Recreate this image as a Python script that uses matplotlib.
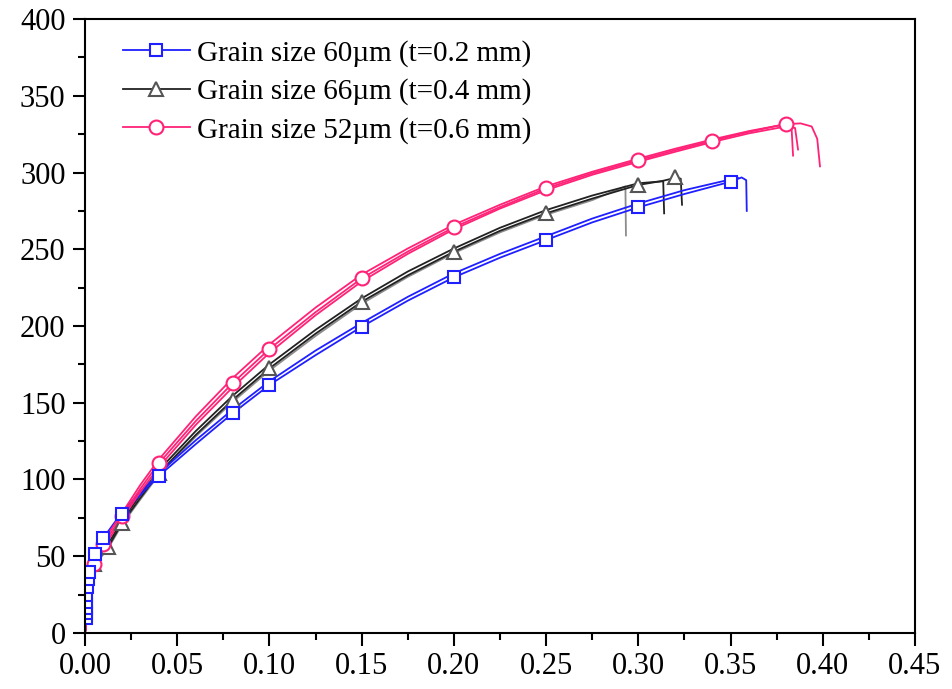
import numpy as np
import matplotlib.pyplot as plt
from matplotlib.lines import Line2D
from matplotlib.ticker import MultipleLocator

# blue: grain size 60um, t=0.2 mm
blue_x1 = [0.0, 0.0003, 0.0006, 0.001, 0.0015, 0.0023, 0.0054, 0.01, 0.02, 0.03, 0.04, 0.06, 0.08, 0.10,
           0.125, 0.15, 0.175, 0.20, 0.225, 0.25, 0.275, 0.30, 0.325, 0.35, 0.356, 0.3585, 0.3588]
blue_y1 = [0, 10, 20, 30, 35, 40, 51.5, 61.7, 77.3, 90, 102.3, 123, 143.1, 161.6,
           181, 199.5, 216.5, 231.7, 244.5, 256, 267.5, 277.3, 286, 294, 296.8, 295, 275]
blue_x2 = [0.0, 0.002, 0.005, 0.01, 0.02, 0.03, 0.04, 0.06, 0.08, 0.10, 0.125, 0.15, 0.175,
           0.20, 0.225, 0.25, 0.275, 0.30, 0.325, 0.35, 0.354]
blue_y2 = [0, 38, 50, 62, 78.5, 92, 104, 125.5, 145.5, 164, 184, 202, 219, 234.3, 247,
           258.5, 270, 279.8, 288.5, 295.5, 296.5]
blue_mx = [0.0003, 0.0004, 0.0005, 0.0006, 0.0008, 0.001, 0.0015, 0.0023, 0.0054, 0.01, 0.02,
           0.04, 0.08, 0.10, 0.15, 0.20, 0.25, 0.30, 0.35]
blue_my = [10, 13, 16, 20, 25, 30, 35, 40, 51.5, 61.7, 77.3, 102.3, 143.1, 161.6, 199.5,
           231.7, 256, 277.3, 294]

# black: grain size 66um, t=0.4 mm
black_x1 = [0.0, 0.005, 0.0125, 0.02, 0.03, 0.04, 0.06, 0.08, 0.10, 0.125, 0.15, 0.175, 0.20,
            0.225, 0.25, 0.275, 0.30, 0.313, 0.32, 0.323, 0.3237]
black_y1 = [0, 45, 56, 71.5, 88, 104, 129, 151.8, 172.4, 195, 215.8, 233, 248.4, 262, 273.4,
            283, 291.9, 294.5, 296.5, 296, 279]
black_x2 = [0.0, 0.005, 0.0125, 0.02, 0.03, 0.04, 0.06, 0.08, 0.10, 0.125, 0.15, 0.175, 0.20,
            0.225, 0.25, 0.275, 0.30, 0.3135, 0.314]
black_y2 = [0, 46, 58, 73, 90, 106, 131.5, 154.5, 175, 197.5, 218, 235.5, 250.5, 264, 275.5,
            285, 293, 294.3, 273.4]
gray_x = [0.0, 0.005, 0.0125, 0.02, 0.03, 0.04, 0.06, 0.08, 0.10, 0.125, 0.15, 0.175, 0.20,
          0.225, 0.25, 0.275, 0.29, 0.293, 0.2933]
gray_y = [0, 44, 55, 70.5, 87, 103, 128, 150.5, 171, 193.5, 214.5, 232, 247.5, 261, 272.5,
          282, 289.5, 291, 259]
black_mx = [0.005, 0.0125, 0.02, 0.04, 0.08, 0.10, 0.15, 0.20, 0.25, 0.30, 0.32]
black_my = [45, 56, 71.5, 104, 151.8, 172.4, 215.8, 248.4, 273.4, 291.9, 296.9]

# pink: grain size 52um, t=0.6 mm
pink_x1 = [0.0, 0.005, 0.01, 0.02, 0.03, 0.04, 0.06, 0.08, 0.10, 0.125, 0.15, 0.175, 0.20,
           0.225, 0.25, 0.275, 0.30, 0.32, 0.34, 0.36, 0.38, 0.383, 0.3839]
pink_y1 = [0, 45, 58, 76, 94, 110.5, 138, 162.7, 185, 209, 231, 248.5, 264.3, 277.5, 289.7,
           299.5, 308, 314.5, 320.7, 326.5, 331.6, 331, 311]
pink_x2 = [0.0, 0.005, 0.01, 0.02, 0.03, 0.04, 0.06, 0.08, 0.10, 0.125, 0.15, 0.175, 0.20,
           0.225, 0.25, 0.275, 0.30, 0.32, 0.34, 0.36, 0.38, 0.385, 0.3866]
pink_y2 = [0, 43, 56, 74, 92, 108, 135.5, 160, 182.5, 207, 229, 247, 263, 276.5, 288.5,
           298.5, 307, 313.5, 319.8, 325.5, 330, 329, 315]
pink_x3 = [0.0, 0.005, 0.01, 0.02, 0.03, 0.04, 0.06, 0.08, 0.10, 0.125, 0.15, 0.175, 0.20,
           0.225, 0.25, 0.275, 0.30, 0.32, 0.34, 0.36, 0.38, 0.388, 0.394, 0.397, 0.3985]
pink_y3 = [0, 47, 60, 78, 96.5, 113, 141, 166, 188, 212, 233.5, 250.5, 266, 279, 291,
           300.5, 309, 315.5, 321.5, 327, 331.5, 332, 330, 322, 304]
pink_mx = [0.005, 0.01, 0.02, 0.04, 0.08, 0.10, 0.15, 0.20, 0.25, 0.30, 0.34, 0.38]
pink_my = [45, 58, 76, 110.5, 162.7, 185, 231, 264.3, 289.7, 308, 320.7, 331.6]

labels = ['Grain size 60\u00b5m (t=0.2 mm)',
          'Grain size 66\u00b5m (t=0.4 mm)',
          'Grain size 52\u00b5m (t=0.6 mm)']

BLUE = '#1f1fff'
BLACK = '#222222'
GRAY = '#8c8c8c'
PINK = '#ff2277'


def main():
    plt.rcParams['font.family'] = ['Liberation Serif', 'DejaVu Serif']
    fig = plt.figure(figsize=(9.52, 6.89), dpi=100)
    ax = fig.add_axes([0.0893, 0.0813, 0.8718, 0.8911])

    lw = 1.3
    ax.plot(gray_x, gray_y, color=GRAY, lw=lw)
    ax.plot(black_x2, black_y2, color=BLACK, lw=lw)
    ax.plot(black_x1, black_y1, color=BLACK, lw=lw)
    ax.plot(blue_x2, blue_y2, color=BLUE, lw=lw)
    ax.plot(blue_x1, blue_y1, color=BLUE, lw=lw)
    ax.plot(pink_x2, pink_y2, color=PINK, lw=lw)
    ax.plot(pink_x3, pink_y3, color=PINK, lw=lw)
    ax.plot(pink_x1, pink_y1, color=PINK, lw=lw)

    ax.plot(black_mx, black_my, ls='none', marker='^', ms=10, mfc='white', mec='#555555', mew=1.5)
    ax.plot(pink_mx, pink_my, ls='none', marker='o', ms=10, mfc='white', mec=PINK, mew=1.5)
    ax.plot(blue_mx, blue_my, ls='none', marker='s', ms=9, mfc='white', mec=BLUE, mew=1.5)

    handles = [
        Line2D([], [], color=BLUE, lw=lw, marker='s', ms=9, mfc='white', mec=BLUE, mew=1.5),
        Line2D([], [], color=BLACK, lw=lw, marker='^', ms=10, mfc='white', mec='#555555', mew=1.5),
        Line2D([], [], color=PINK, lw=lw, marker='o', ms=10, mfc='white', mec=PINK, mew=1.5),
    ]
    ax.legend(handles, labels, loc='upper left', bbox_to_anchor=(0.028, 0.99), frameon=False,
              fontsize=21, handlelength=2.3, handletextpad=0.25, labelspacing=0.4,
              borderpad=0, numpoints=1)

    ax.set_xlim(0, 0.45)
    ax.set_ylim(0, 400)
    ax.xaxis.set_major_locator(MultipleLocator(0.05))
    ax.xaxis.set_minor_locator(MultipleLocator(0.025))
    ax.yaxis.set_major_locator(MultipleLocator(50))
    ax.yaxis.set_minor_locator(MultipleLocator(25))
    ax.xaxis.set_major_formatter(plt.FormatStrFormatter('%.2f'))
    ax.tick_params(which='major', length=9, width=1.5, labelsize=22, pad=5)
    ax.tick_params(which='minor', length=5, width=1.5)
    for s in ax.spines.values():
        s.set_linewidth(1.5)

    plt.savefig('out.png', dpi=100)
    plt.close()


if __name__ == "__main__":
    main()
